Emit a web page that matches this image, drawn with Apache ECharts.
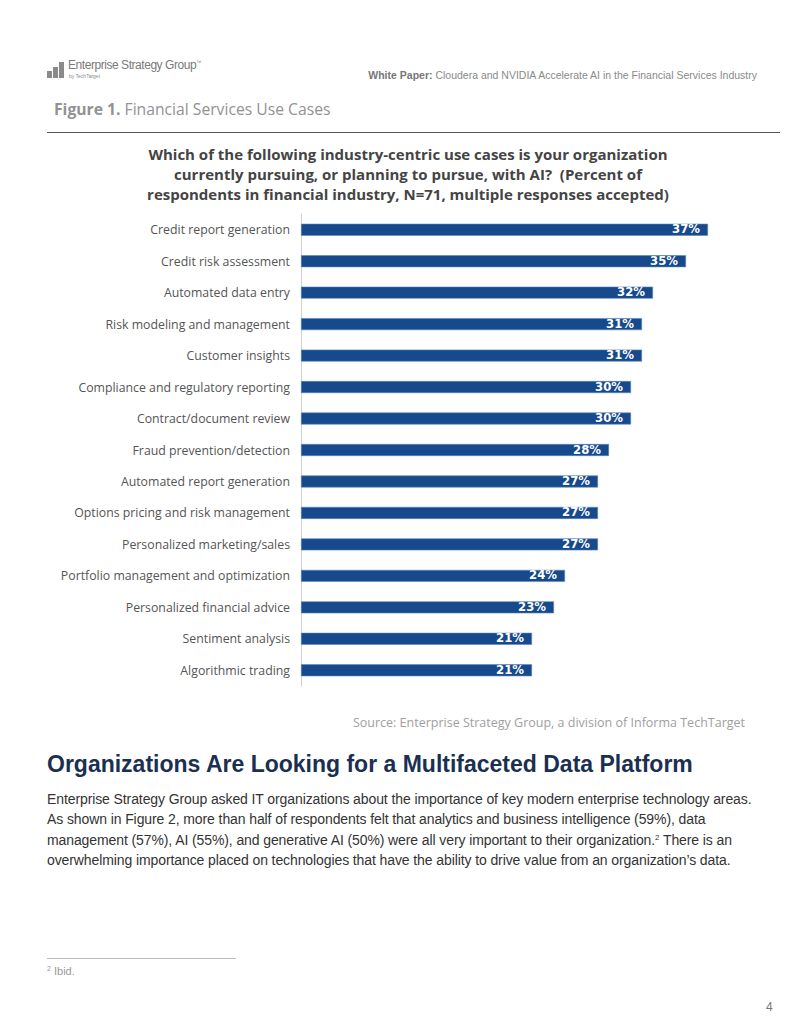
<!DOCTYPE html>
<html><head><meta charset="utf-8">
<script src="https://cdn.jsdelivr.net/npm/echarts@6/dist/echarts.min.js"></script>
<style>
html,body{margin:0;padding:0;background:#fff;}
body{width:800px;height:1035px;position:relative;overflow:hidden;font-family:"Liberation Sans",Arial,sans-serif;}
.abs{position:absolute;white-space:nowrap;}
.para{position:absolute;left:47px;font-size:14px;line-height:17px;color:#333;letter-spacing:-0.1px;white-space:nowrap;}
.sup{font-size:8px;position:relative;top:-5px;line-height:0;}
</style></head>
<body>
<!-- logo -->
<div class="abs" style="left:47px;top:71px;width:5px;height:7px;background:#8a8a8a"></div>
<div class="abs" style="left:53px;top:67px;width:5px;height:11px;background:#8a8a8a"></div>
<div class="abs" style="left:59px;top:62px;width:5px;height:16px;background:#8a8a8a"></div>
<div class="abs" style="left:68px;top:58px;font-size:12px;color:#7a7a7a;letter-spacing:-0.45px">Enterprise Strategy Group<span style="font-size:5px;position:relative;top:-5px">™</span></div>
<div class="abs" style="left:69px;top:73px;font-size:5px;color:#8a8a8a">by TechTarget</div>
<div class="abs" style="right:43px;top:69px;font-size:10.5px;color:#8a8a8a"><b style="color:#777">White Paper:</b> Cloudera and NVIDIA Accelerate AI in the Financial Services Industry</div>

<div class="abs" style="left:54px;top:98px;font-size:15.7px;color:#929292;font-family:'Open Sans',sans-serif"><b>Figure 1.</b> Financial Services Use Cases</div>
<div class="abs" style="left:47px;top:132px;width:733px;height:1px;background:#555"></div>

<div id="chart" class="abs" style="left:0;top:140px;width:800px;height:560px"></div>

<div class="abs" style="right:55px;top:714px;font-size:12.5px;color:#a0a0a0;font-family:'Open Sans',sans-serif">Source: Enterprise Strategy Group, a division of Informa TechTarget</div>

<div class="abs" style="left:47px;top:751px;font-size:23px;font-weight:bold;color:#1b2f52">Organizations Are Looking for a Multifaceted Data Platform</div>
<div class="para" style="top:791px">Enterprise Strategy Group asked IT organizations about the importance of key modern enterprise technology areas.</div>
<div class="para" style="top:811px">As shown in Figure 2, more than half of respondents felt that analytics and business intelligence (59%), data</div>
<div class="para" style="top:832px">management (57%), AI (55%), and generative AI (50%) were all very important to their organization.<span class="sup">2</span> There is an</div>
<div class="para" style="top:852px">overwhelming importance placed on technologies that have the ability to drive value from an organization’s data.</div>

<div class="abs" style="left:47px;top:958px;width:189px;height:1px;background:#bbb"></div>
<div class="abs" style="left:47px;top:965px;font-size:11px;color:#999"><span style="font-size:7px;position:relative;top:-4px">2</span> Ibid.</div>
<div class="abs" style="left:766px;top:1000px;font-size:12px;color:#777">4</div>

<script>
var categories = ["Credit report generation","Credit risk assessment","Automated data entry","Risk modeling and management","Customer insights","Compliance and regulatory reporting","Contract/document review","Fraud prevention/detection","Automated report generation","Options pricing and risk management","Personalized marketing/sales","Portfolio management and optimization","Personalized financial advice","Sentiment analysis","Algorithmic trading"];
var values = [37,35,32,31,31,30,30,28,27,27,27,24,23,21,21];
var titleText = "Which of the following industry-centric use cases is your organization\ncurrently pursuing, or planning to pursue, with AI?  (Percent of\nrespondents in financial industry, N=71, multiple responses accepted)";

var chart = echarts.init(document.getElementById('chart'), null, {renderer:'svg'});
chart.setOption({
  animation:false,
  title:{text:titleText,left:403,textAlign:'center',top:-1,textStyle:{fontFamily:'Open Sans',fontWeight:'bold',fontSize:15,lineHeight:20,color:'#444'}},
  grid:{left:301,top:74,width:440,height:472},
  xAxis:{type:'value',min:0,max:40,show:false},
  yAxis:{type:'category',data:categories,inverse:true,
    axisLine:{show:true,lineStyle:{color:'#d0d0d0',width:1}},
    axisTick:{show:false},
    axisLabel:{color:'#555',fontSize:12.3,fontFamily:'Open Sans',margin:11}},
  series:[{type:'bar',data:values,barWidth:12,
    itemStyle:{color:'#164a8c',borderColor:'#5b86bd',borderWidth:0.6},
    label:{show:true,position:'insideRight',distance:8,formatter:'{c}%',color:'#fff',fontWeight:'bold',fontSize:13,fontFamily:'DejaVu Sans Condensed, DejaVu Sans',offset:[0,-1]}}]
});
</script>
</body></html>
